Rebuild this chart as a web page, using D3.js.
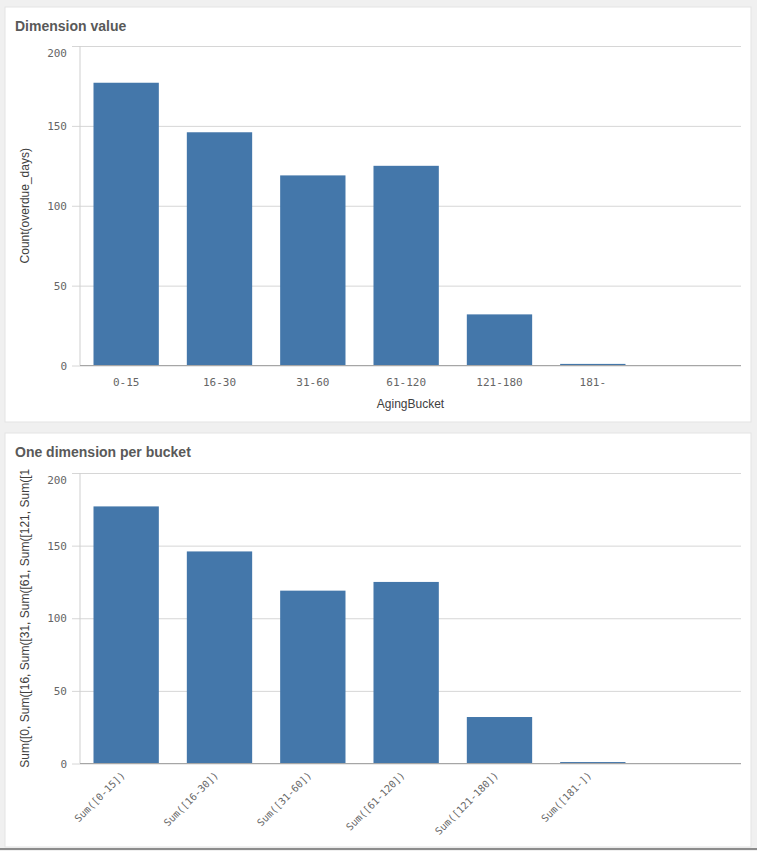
<!DOCTYPE html>
<html>
<head>
<meta charset="utf-8">
<script src="https://cdn.jsdelivr.net/npm/d3@7"></script>
<style>
  body { margin: 0; background: #f0f0f0; }
  svg { display: block; }
</style>
</head>
<body>
<svg width="757" height="851"></svg>
<script>
// data
var buckets = ["0-15", "16-30", "31-60", "61-120", "121-180", "181-"];
var counts = [177, 146, 119, 125, 32, 1];
var sumLabels = ["Sum([0-15])", "Sum([16-30])", "Sum([31-60])", "Sum([61-120])", "Sum([121-180])", "Sum([181-])"];
var sums = [177, 146, 119, 125, 32, 1];
var yTicks = [0, 50, 100, 150, 200];

var svg = d3.select("svg");
var numFont = "'DejaVu Sans Mono', monospace",
  sansFont = "'Liberation Sans', Arial, sans-serif",
  grey = "#595959",
  barColor = "#4477aa";

function panel(opts) {
  var top = opts.top;
  var card = svg.append("g");
  card.append("rect")
    .attr("x", 5).attr("y", top)
    .attr("width", 746).attr("height", opts.cardHeight)
    .attr("fill", "#fff")
    .attr("stroke", "#e3e3e3");

  card.append("text")
    .attr("x", 15).attr("y", top + 24)
    .attr("font-family", sansFont)
    .attr("font-weight", "bold")
    .attr("font-size", "14px")
    .attr("fill", grey)
    .text(opts.title);

  var left = 80, right = 741;
  var x = d3.scaleBand()
    .domain(opts.cats)
    .range([left - 0.5, left - 0.5 + 93.33 * opts.cats.length])
    .paddingInner(0.3)
    .paddingOuter(0.15);

  var y = d3.scaleLinear().domain([0, 200]).range([opts.y0, opts.y200]);

  // gridlines + y ticks
  var yAxis = card.append("g")
    .attr("transform", "translate(" + right + ",0)")
    .call(d3.axisLeft(y).tickValues(yTicks).tickSize(right - left + 8).tickPadding(5));
  yAxis.select(".domain").remove();
  yAxis.selectAll("line").attr("stroke", "#d6d6d6");
  yAxis.selectAll("text")
    .attr("font-family", numFont)
    .attr("font-size", "11px")
    .attr("fill", "#666")
    .attr("y", (d) => Math.max(0, opts.y200 + 7 - y(d))); // top label pushed inside

  card.append("line")
    .attr("x1", left).attr("x2", left)
    .attr("y1", opts.y200).attr("y2", opts.y0)
    .attr("stroke", "#cfcfcf");

  card.selectAll("rect.bar")
    .data(opts.values)
    .enter()
    .append("rect")
    .attr("class", "bar")
    .attr("x", (d, i) => x(opts.cats[i]))
    .attr("y", (d) => y(d))
    .attr("width", x.bandwidth())
    .attr("height", (d) => opts.y0 - y(d))
    .attr("fill", barColor);

  card.append("line")
    .attr("x1", left).attr("x2", right)
    .attr("y1", opts.y0).attr("y2", opts.y0)
    .attr("stroke", "#a6a6a6");

  var xAxis = card.append("g")
    .attr("transform", "translate(0," + opts.y0 + ")")
    .call(d3.axisBottom(x).tickSize(0).tickPadding(13));
  xAxis.select(".domain").remove();
  xAxis.selectAll("text")
    .attr("font-family", numFont)
    .attr("font-size", "11px")
    .attr("fill", "#666");

  if (opts.rotate) {
    xAxis.selectAll("text")
      .attr("font-size", "10px")
      .attr("text-anchor", "end")
      .attr("x", 0).attr("y", 0).attr("dy", "0.35em")
      .attr("transform", "translate(-3,10) rotate(-45)");
  }

  if (opts.xTitle) {
    card.append("text")
      .attr("x", (left + right) / 2).attr("y", opts.y0 + 42)
      .attr("text-anchor", "middle")
      .attr("font-family", sansFont)
      .attr("font-size", "12px")
      .attr("fill", "#404040")
      .text(opts.xTitle);
  }

  card.append("text")
    .attr("transform", "translate(29," + (opts.y0 + opts.y200) / 2 + ") rotate(-90)")
    .attr("text-anchor", "middle")
    .attr("font-family", sansFont)
    .attr("font-size", "12px")
    .attr("fill", "#404040")
    .text(opts.yTitle);
}

panel({
  top: 7, cardHeight: 415,
  title: "Dimension value",
  cats: buckets, values: counts,
  y0: 365.5, y200: 46,
  xTitle: "AgingBucket",
  yTitle: "Count(overdue_days)"
});

panel({
  top: 433, cardHeight: 414,
  title: "One dimension per bucket",
  cats: sumLabels, values: sums,
  y0: 763.5, y200: 473,
  rotate: true,
  yTitle: "Sum([0, Sum([16, Sum([31, Sum([61, Sum([121, Sum([1"
});

svg.append("line")
  .attr("x1", 0).attr("x2", 757)
  .attr("y1", 849).attr("y2", 849)
  .attr("stroke", "#8c8c8c").attr("stroke-width", 2);
</script>
</body>
</html>
